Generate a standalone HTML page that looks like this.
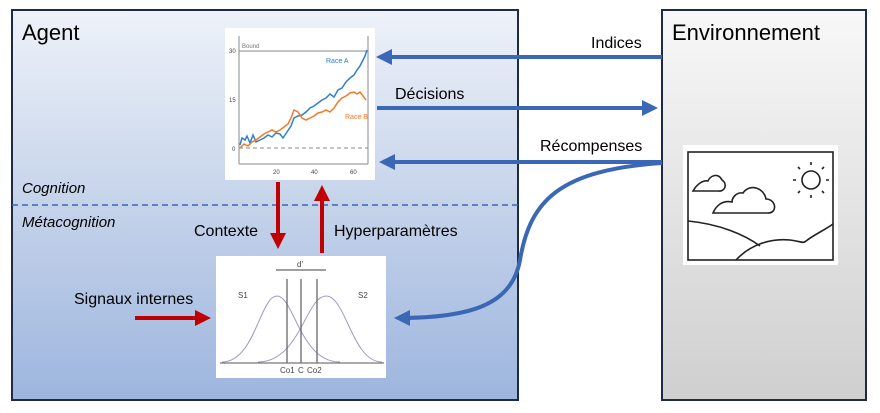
<!DOCTYPE html>
<html><head><meta charset="utf-8"><style>
html,body{margin:0;padding:0;background:#fff;width:880px;height:413px;overflow:hidden}
text{font-family:"Liberation Sans",sans-serif}
</style></head><body>
<svg width="880" height="413" viewBox="0 0 880 413" xmlns="http://www.w3.org/2000/svg">
<defs>
<linearGradient id="ag" x1="0" y1="0" x2="0" y2="1">
<stop offset="0" stop-color="#eef2f9"/><stop offset="0.5" stop-color="#c5d3ea"/><stop offset="1" stop-color="#9db5de"/></linearGradient>
<linearGradient id="eg" x1="0" y1="0" x2="0" y2="1">
<stop offset="0" stop-color="#f8f8f8"/><stop offset="1" stop-color="#cfcfcf"/></linearGradient>
<marker id="bh" markerWidth="4" markerHeight="4" refX="3" refY="2" orient="auto" markerUnits="strokeWidth"><path d="M0,0 L4,2 L0,4 z" fill="#3a68b7"/></marker>
<marker id="rh" markerWidth="4" markerHeight="4" refX="3" refY="2" orient="auto" markerUnits="strokeWidth"><path d="M0,0 L4,2 L0,4 z" fill="#c00000"/></marker>
</defs>
<rect x="12" y="10" width="506" height="390" fill="url(#ag)" stroke="#1f2a44" stroke-width="2"/>
<rect x="662" y="10" width="204" height="390" fill="url(#eg)" stroke="#1f2a44" stroke-width="2"/>
<text x="22" y="40" font-size="22" fill="#000">Agent</text>
<text x="672" y="40" font-size="22" fill="#000">Environnement</text>
<line x1="12" y1="205" x2="518" y2="205" stroke="#3a68b7" stroke-width="1.5" stroke-dasharray="6,4"/>
<text x="22" y="193" font-size="15" font-style="italic">Cognition</text>
<text x="22" y="227" font-size="15" font-style="italic">Métacognition</text>

<!-- chart -->
<rect x="225" y="28" width="150" height="152" fill="#fff"/>
<g stroke="#888" fill="none" stroke-width="1">
<line x1="239" y1="36" x2="239" y2="164"/><line x1="239" y1="164" x2="368" y2="164"/><line x1="368" y1="36" x2="368" y2="164"/>
<line x1="239" y1="51" x2="368" y2="51"/>
<line x1="239" y1="148" x2="368" y2="148" stroke-dasharray="4,3"/>
</g>
<text x="242" y="48" font-size="6" fill="#777">Bound</text>
<g font-size="6" fill="#444"><text x="229" y="53">30</text><text x="229" y="102">15</text><text x="232" y="151">0</text>
<text x="273" y="174">20</text><text x="311" y="174">40</text><text x="350" y="174">60</text></g>
<polyline fill="none" stroke="#2e7fd0" stroke-width="1.5" points="240,145 242,138 245,140 247,136 250,143 253,135 256,142 260,140 264,138 268,135 272,137 276,133 280,134 283,138 287,132 291,126 294,118 298,116 302,115 306,112 310,108 314,106 318,103 322,100 326,98 330,94 334,97 338,90 342,88 346,82 350,78 354,75 357,70 360,66 362,62 365,56 367,50"/>
<polyline fill="none" stroke="#f07a28" stroke-width="1.5" points="240,148 244,144 248,146 252,142 256,140 260,137 264,134 268,132 272,130 276,132 280,130 284,127 288,124 291,118 294,110 298,112 302,118 306,120 310,118 314,116 318,113 322,112 326,110 330,112 334,108 338,102 342,98 346,96 350,93 354,92 357,94 360,92 363,96 366,100"/>
<text x="326" y="63" font-size="7" fill="#2e7fd0">Race A</text>
<text x="345" y="119" font-size="7" fill="#f07a28">Race B</text>

<!-- gaussian -->
<rect x="216" y="256" width="170" height="122" fill="#fff"/>
<g stroke="#9c9cc4" fill="none" stroke-width="1">
<path d="M222,362 C255,362 260,296 277,296 C294,296 300,362 340,362"/>
<path d="M258,362 C300,362 306,296 326,296 C346,296 352,362 382,362"/>
</g>
<line x1="220" y1="363" x2="384" y2="363" stroke="#555" stroke-width="1"/>
<g stroke="#666" stroke-width="1.3"><line x1="287" y1="279" x2="287" y2="363"/><line x1="301" y1="279" x2="301" y2="363"/><line x1="317" y1="279" x2="317" y2="363"/>
<line x1="276" y1="270" x2="326" y2="270"/></g>
<g font-size="8" fill="#444"><text x="297" y="267">d'</text><text x="238" y="298">S1</text><text x="358" y="298">S2</text>
<text x="280" y="373">Co1</text><text x="298" y="373">C</text><text x="307" y="373">Co2</text></g>

<!-- landscape -->
<rect x="683" y="145" width="155" height="120" fill="#fff"/>
<g stroke="#222" stroke-width="1.6" fill="none">
<rect x="688" y="152" width="145" height="108"/>
<path d="M688,221 C720,224 745,235 760,246"/>
<path d="M736,260 C750,245 770,238 790,240 C800,241 803,244 806,241 C815,234 825,230 833,224"/>
<path d="M693,191 L718,191 C725,192 728,184 722,180 C718,172 710,176 708,181 C703,180 697,184 693,191z"/>
<path d="M713,213 L768,213 C778,213 776,199 766,199 C764,188 750,183 743,193 C736,192 732,198 732,202 C722,200 716,206 713,213z"/>
<circle cx="811" cy="180" r="9"/>
<path d="M811,165v-3M811,195v3M796,180h-3M826,180h3M800,169l-2,-2M822,169l2,-2M800,191l-2,2M822,191l2,2"/>
</g>

<!-- blue arrows -->
<g stroke="#3a68b7" stroke-width="4" fill="none">
<line x1="662" y1="57" x2="380" y2="57" marker-end="url(#bh)"/>
<line x1="377" y1="108" x2="654" y2="108" marker-end="url(#bh)"/>
<line x1="662" y1="162" x2="383" y2="162" marker-end="url(#bh)"/>
<path d="M662,163 C560,170 530,200 520,260 C512,305 470,318 398,318" marker-end="url(#bh)"/>
</g>
<g font-size="16" fill="#000">
<text x="591" y="48">Indices</text>
<text x="395" y="99">Décisions</text>
<text x="540" y="151">Récompenses</text>
<text x="194" y="236">Contexte</text>
<text x="334" y="236">Hyperparamètres</text>
<text x="74" y="304">Signaux internes</text>
</g>
<!-- red arrows -->
<g stroke="#c00000" stroke-width="4">
<line x1="278" y1="182" x2="278" y2="245" marker-end="url(#rh)"/>
<line x1="322" y1="253" x2="322" y2="189" marker-end="url(#rh)"/>
<line x1="135" y1="318" x2="207" y2="318" marker-end="url(#rh)"/>
</g>
</svg>
</body></html>
